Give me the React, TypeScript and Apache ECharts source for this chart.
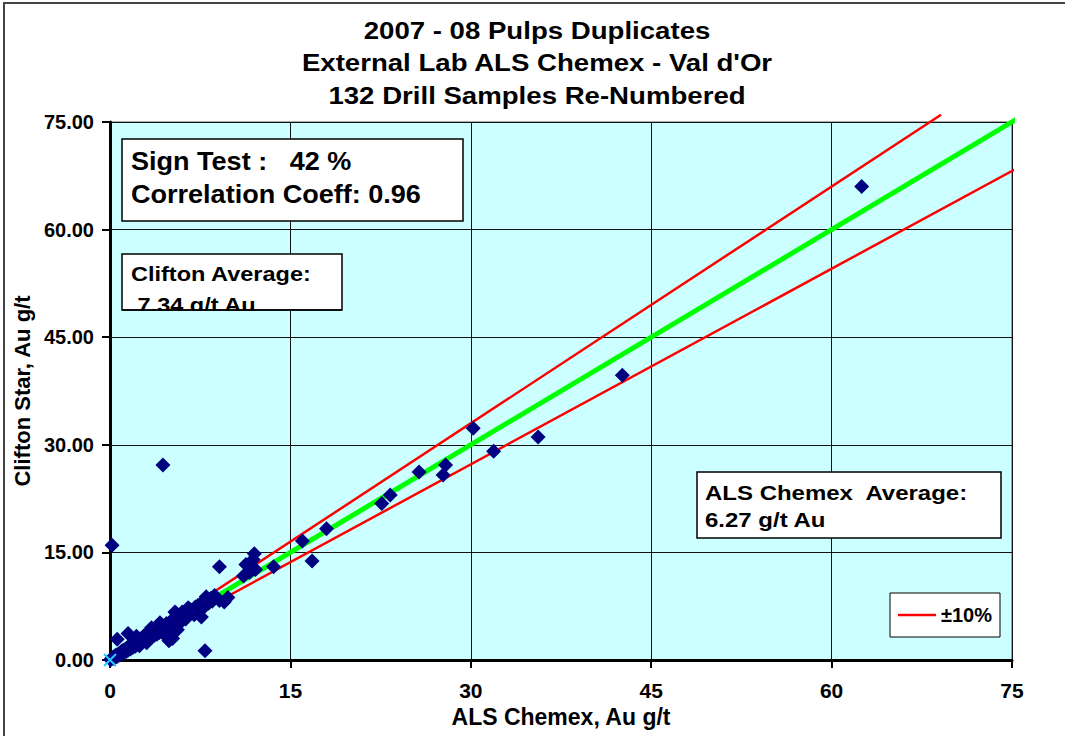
import React, { useEffect, useRef } from "react";
import * as echarts from "echarts";

// ALS Chemex (x) vs Clifton Star (y), Au g/t — 132 duplicate pulps
const alsChemex = [
  62.5, 42.6, 35.6, 30.2, 31.9, 27.9, 27.7, 25.7, 23.3, 22.6,
  18.0, 16.0, 16.8, 13.6, 12.0, 11.9, 11.3, 12.1, 11.1, 11.6,
  9.1, 4.4, 0.17, 7.9, 8.4, 9.1, 9.5, 8.0, 7.6, 7.6,
  8.7, 9.8, 8.2, 7.1, 6.9, 6.6, 6.2, 5.5, 5.2, 5.8,
  6.0, 5.4, 6.4, 4.9, 5.2, 4.6, 5.6, 0.6, 1.5, 2.2,
  0.05, 0.1, 0.2, 0.3, 0.35, 0.45, 0.5, 0.6, 0.7, 0.8,
  0.85, 0.95, 1.0, 1.1, 1.2, 1.3, 1.35, 1.45, 1.5, 1.6,
  1.7, 1.8, 1.9, 2.0, 2.1, 2.2, 2.3, 2.4, 2.5, 2.6,
  2.7, 2.8, 2.9, 3.0, 3.1, 3.2, 3.3, 3.4, 3.5, 3.6,
  3.7, 3.8, 3.9, 4.0, 4.1, 4.2, 4.3, 4.4, 4.5, 4.6,
  4.7, 4.8, 5.0, 5.1, 5.3, 5.5, 5.7, 5.9, 6.1, 6.3,
  6.7, 7.0, 7.3, 7.8, 8.5, 2.05, 2.45, 2.85, 3.25, 3.65,
  3.95, 4.25, 1.25, 1.65, 0.55, 0.25, 1.0, 3.05, 3.45, 4.15,
  5.35, 6.5,
];
const cliftonStar = [
  66.0, 39.7, 31.1, 32.3, 29.1, 27.2, 25.8, 26.2, 23.0, 21.8,
  18.3, 16.6, 13.8, 13.0, 14.8, 14.0, 13.3, 12.6, 11.7, 12.2,
  13.0, 27.2, 16.0, 1.3, 8.6, 8.3, 8.1, 8.8, 7.0, 6.0,
  9.0, 8.7, 7.9, 7.4, 6.6, 6.5, 6.0, 6.5, 5.3, 5.6,
  6.7, 6.7, 6.1, 2.7, 3.0, 3.4, 4.2, 2.9, 3.7, 3.3,
  0.05, 0.15, 0.3, 0.2, 0.5, 0.4, 0.7, 0.5, 0.85, 0.7,
  1.0, 1.2, 0.9, 1.35, 1.1, 1.55, 1.2, 1.75, 1.35, 1.9,
  1.55, 2.1, 1.75, 2.35, 1.9, 2.55, 2.15, 2.75, 2.3, 3.0,
  2.5, 3.2, 2.7, 3.5, 2.85, 3.7, 3.05, 3.9, 3.25, 4.1,
  3.45, 4.35, 3.6, 4.6, 3.85, 4.4, 4.9, 4.0, 4.7, 4.2,
  5.1, 4.5, 5.3, 4.7, 5.8, 5.0, 6.1, 5.3, 6.4, 5.7,
  7.0, 6.3, 7.6, 8.3, 8.2, 2.6, 2.0, 3.4, 3.3, 3.6,
  4.1, 4.25, 1.4, 1.7, 0.6, 0.35, 1.05, 2.4, 4.5, 5.2,
  4.4, 7.3,
];

const axisMin = 0;
const axisMax = 75;
const axisStep = 15;
const upperFactor = 1.1;
const lowerFactor = 1 / 1.1;
const lineEnds = { green: 75.6, upperX: 69.1, lowerX: 75.6 };

const titleLines = [
  "2007 - 08 Pulps Duplicates",
  "External Lab ALS Chemex - Val d'Or",
  "132 Drill Samples Re-Numbered",
];
const statsLines = ["Sign Test :   42 %", "Correlation Coeff: 0.96"];
const cliftonLines = ["Clifton Average:", " 7.34 g/t Au"];
const alsLines = ["ALS Chemex  Average:", "6.27 g/t Au"];

const FONT = "'Liberation Sans', Arial, sans-serif";

export default function App() {
  const ref = useRef<HTMLDivElement>(null);

  useEffect(() => {
    if (!ref.current) return;
    const chart = echarts.init(ref.current, null, { renderer: "svg" });

    const points = alsChemex.map((x, i) => [x, cliftonStar[i]]);
    const txt = (
      text: string,
      x: number,
      y: number,
      size: number,
      scaleX: number,
      align: string = "left"
    ) => ({
      type: "text",
      x,
      y,
      scaleX,
      z: 60,
      silent: true,
      style: {
        text,
        fill: "#000",
        fontFamily: FONT,
        fontWeight: "bold",
        fontSize: size,
        align,
        verticalAlign: "middle",
      },
    });
    const box = (x: number, y: number, w: number, h: number) => ({
      type: "rect",
      z: 55,
      silent: true,
      shape: { x, y, width: w, height: h },
      style: { fill: "#fff", stroke: "#000", lineWidth: 1.5 },
    });

    chart.setOption({
      animation: false,
      backgroundColor: "#fff",
      grid: {
        left: 110,
        top: 122,
        right: 53,
        bottom: 76,
        show: true,
        backgroundColor: "#CCFFFF",
        borderColor: "#555",
        borderWidth: 1,
      },
      legend: {
        data: [{ name: "±10%", icon: "rect" }],
        left: 890,
        top: 593,
        orient: "horizontal",
        itemWidth: 38,
        itemHeight: 2.5,
        itemGap: 5,
        padding: [12, 8, 12, 8],
        backgroundColor: "#fff",
        borderColor: "#000",
        borderWidth: 1,
        selectedMode: false,
        itemStyle: { color: "#FF0000", borderWidth: 0 },
        textStyle: {
          fontFamily: FONT,
          fontWeight: "bold",
          fontSize: 20,
          color: "#000",
        },
        z: 60,
      },
      xAxis: {
        type: "value",
        min: axisMin,
        max: axisMax,
        interval: axisStep,
        name: "ALS Chemex, Au g/t",
        nameLocation: "middle",
        nameGap: 44,
        nameTextStyle: {
          fontFamily: FONT,
          fontWeight: "bold",
          fontSize: 23,
          color: "#000",
        },
        axisLine: { show: true, onZero: false, lineStyle: { color: "#000", width: 3 } },
        axisTick: { show: true, length: 8, lineStyle: { color: "#000", width: 2 } },
        axisLabel: {
          margin: 20,
          fontFamily: FONT,
          fontWeight: "bold",
          fontSize: 21,
          color: "#000",
        },
        splitLine: { show: true, lineStyle: { color: "#111", width: 1 } },
      },
      yAxis: {
        type: "value",
        min: axisMin,
        max: axisMax,
        interval: axisStep,
        name: "Clifton Star, Au g/t",
        nameLocation: "middle",
        nameGap: 71,
        nameTextStyle: {
          fontFamily: FONT,
          fontWeight: "bold",
          fontSize: 22,
          color: "#000",
        },
        axisLine: { show: true, onZero: false, lineStyle: { color: "#000", width: 3 } },
        axisTick: { show: true, length: 8, lineStyle: { color: "#000", width: 2 } },
        axisLabel: {
          margin: 16,
          fontFamily: FONT,
          fontWeight: "bold",
          fontSize: 20,
          color: "#000",
          formatter: (v: number) => v.toFixed(2),
        },
        splitLine: { show: true, lineStyle: { color: "#111", width: 1 } },
      },
      series: [
        {
          name: "±10%",
          type: "line",
          symbol: "none",
          clip: false,
          silent: true,
          z: 3,
          lineStyle: { color: "#FF0000", width: 2.5 },
          itemStyle: { color: "#FF0000" },
          data: [
            [0, 0],
            [lineEnds.upperX, lineEnds.upperX * upperFactor],
          ],
        },
        {
          name: "±10%",
          type: "line",
          symbol: "none",
          clip: false,
          silent: true,
          z: 3,
          lineStyle: { color: "#FF0000", width: 2.5 },
          itemStyle: { color: "#FF0000" },
          data: [
            [0, 0],
            [lineEnds.lowerX, lineEnds.lowerX * lowerFactor],
          ],
        },
        {
          name: "1:1",
          type: "line",
          symbol: "none",
          clip: false,
          silent: true,
          z: 3,
          lineStyle: { color: "#00FF00", width: 5 },
          data: [
            [0, 0],
            [lineEnds.green, lineEnds.green],
          ],
        },
        {
          name: "Duplicates",
          type: "scatter",
          symbol: "diamond",
          symbolSize: 15,
          z: 5,
          silent: true,
          itemStyle: { color: "#000080", opacity: 1 },
          data: points,
        },
        {
          name: "Origin",
          type: "scatter",
          symbol: "path://M0,0L10,10M10,0L0,10",
          symbolSize: 12,
          clip: false,
          z: 6,
          silent: true,
          itemStyle: { color: "rgba(0,0,0,0)", borderColor: "#22CCFF", borderWidth: 2, opacity: 1 },
          data: [[0, 0]],
        },
      ],
      graphic: [
        {
          type: "rect",
          z: 1,
          silent: true,
          shape: { x: 4, y: 3, width: 1080, height: 760 },
          style: { fill: "none", stroke: "#444", lineWidth: 2 },
        },
        txt(titleLines[0], 537, 31, 24, 1.15, "center"),
        txt(titleLines[1], 537, 63, 24, 1.15, "center"),
        txt(titleLines[2], 537, 96, 24, 1.15, "center"),
        box(122, 139, 341, 82),
        txt(statsLines[0], 131, 161, 26, 1.04),
        txt(statsLines[1], 131, 194, 26, 1.04),
        box(122, 254, 220, 56),
        txt(cliftonLines[0], 131, 274, 21, 1.12),
        txt(cliftonLines[1], 131, 305, 21, 1.12),
        {
          type: "rect",
          z: 61,
          silent: true,
          shape: { x: 122, y: 311, width: 150, height: 9 },
          style: { fill: "#CCFFFF" },
        },
        {
          type: "line",
          z: 62,
          silent: true,
          shape: { x1: 122, y1: 310, x2: 342, y2: 310 },
          style: { stroke: "#000", lineWidth: 1.5 },
        },
        box(697, 472, 304, 66),
        txt(alsLines[0], 705, 493, 20, 1.2),
        txt(alsLines[1], 705, 520, 20, 1.2),
      ],
    });

    return () => chart.dispose();
  }, []);

  return (
    <div
      ref={ref}
      style={{ position: "absolute", left: 0, top: 0, width: 1065, height: 736, background: "#fff" }}
    />
  );
}
